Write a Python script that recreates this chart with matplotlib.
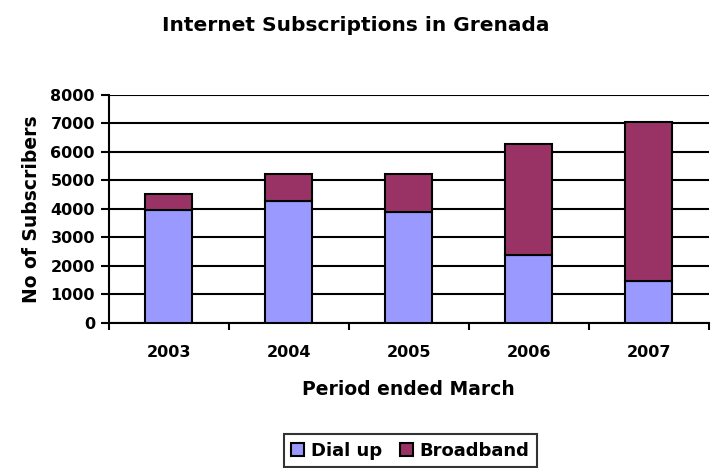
import numpy as np
import matplotlib.pyplot as plt

plt.rcParams['font.family'] = ['DejaVu Sans']
plt.rcParams['font.weight'] = 'bold'

years = ['2003', '2004', '2005', '2006', '2007']
dial_up = [3950, 4270, 3910, 2370, 1470]
broadband = [560, 940, 1330, 3920, 5570]

fig = plt.figure(figsize=(7.11, 4.68), dpi=100)
ax = fig.add_axes([0.153, 0.31, 0.844, 0.487])

x = np.arange(len(years))
ax.bar(x, dial_up, width=0.39, color='#9999FF', edgecolor='black', linewidth=1.5,
       label='Dial up', zorder=3)
ax.bar(x, broadband, width=0.39, bottom=dial_up, color='#993366', edgecolor='black',
       linewidth=1.5, label='Broadband', zorder=3)

ax.set_xlim(-0.5, len(years) - 0.5)
ax.set_ylim(0, 8000)
ax.set_yticks(np.arange(0, 8001, 1000))
ax.yaxis.grid(True, color='black', linewidth=1.5, zorder=0)

# tick marks between categories, labels centred under bars
ax.set_xticks(np.arange(-0.5, len(years), 1.0))
ax.set_xticklabels([])
ax.set_xticks(x, minor=True)
ax.set_xticklabels(years, minor=True)
ax.tick_params(axis='x', which='major', length=5, width=1.5, direction='out')
ax.tick_params(axis='x', which='minor', length=0, pad=16, labelsize=11.5)
ax.tick_params(axis='y', length=6, width=1.5, direction='out', pad=4, labelsize=11.5)

for s in ['top', 'right']:
    ax.spines[s].set_visible(False)
for s in ['left', 'bottom']:
    ax.spines[s].set_linewidth(1.5)

ax.set_xlabel('Period ended March', fontsize=13.5, fontweight='bold', labelpad=14)
ax.set_ylabel('No of Subscribers', fontsize=13.5, fontweight='bold', labelpad=7)
fig.text(0.5, 1 - 31 / 468, 'Internet Subscriptions in Grenada', ha='center',
         va='baseline', fontsize=14.5, fontweight='bold')

leg = fig.legend(loc='center', bbox_to_anchor=(0.577, 0.037), ncol=2, fontsize=13,
                 frameon=True, fancybox=False, edgecolor='black', handlelength=0.75,
                 handleheight=0.75, handletextpad=0.35, columnspacing=1.0,
                 borderpad=0.4)
leg.get_frame().set_linewidth(1.5)

fig.savefig('out.png', dpi=100)
